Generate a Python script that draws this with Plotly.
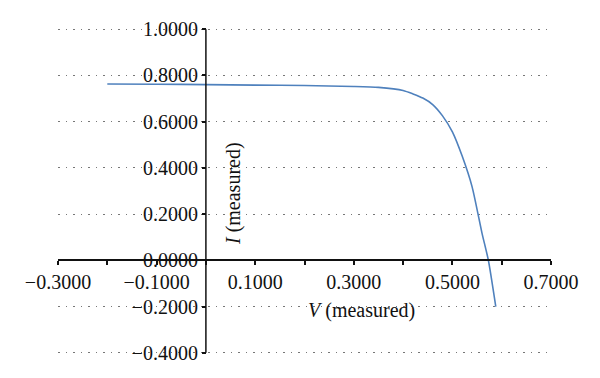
import plotly.graph_objects as go

# Data
V = [-0.2, -0.1, 0.0, 0.1, 0.2, 0.3, 0.35, 0.4, 0.42, 0.44, 0.46, 0.48, 0.50,
     0.52, 0.54, 0.56, 0.573, 0.588]
I = [0.763, 0.762, 0.760, 0.758, 0.756, 0.752, 0.748, 0.735, 0.720, 0.702,
     0.674, 0.625, 0.556, 0.450, 0.318, 0.118, 0.0, -0.200]

x_tickvals = [-0.3, -0.1, 0.1, 0.3, 0.5, 0.7]
y_tickvals = [-0.4, -0.2, 0.0, 0.2, 0.4, 0.6, 0.8, 1.0]


def fmt(v):
    s = f"{abs(v):.4f}"
    return ("\u2212" + s) if v < -1e-12 else s


FONT = dict(family="Liberation Serif, Times New Roman, serif", size=20, color="#111")

Y_LO, Y_HI = -0.405, 1.005
fig = go.Figure()
fig.add_trace(go.Scatter(x=V, y=I, mode="lines",
                         line=dict(color="#4F81BD", width=1.6, shape="spline", smoothing=0.6),
                         hoverinfo="skip", showlegend=False))

fig.update_layout(
    width=600, height=378,
    margin=dict(l=50, r=57, t=20, b=32, autoexpand=False),
    paper_bgcolor="white", plot_bgcolor="white",
    font=FONT,
    showlegend=False,
    xaxis=dict(
        range=[-0.3, 0.7], anchor="free", position=(0 - Y_LO) / (Y_HI - Y_LO), automargin=False,
        showgrid=False, zeroline=False,
        showline=True, linecolor="#111", linewidth=1.5,
        tickvals=x_tickvals, ticktext=[fmt(v) for v in x_tickvals],
        ticks="outside", ticklen=4, tickcolor="#111", tickwidth=1.5,
        minor=dict(dtick=0.1, tick0=-0.3, ticks="outside", ticklen=4,
                   tickcolor="#111", tickwidth=1.5, showgrid=False),
        tickfont=FONT,
    ),
    yaxis=dict(
        range=[Y_LO, Y_HI], anchor="free", position=0.3, automargin=False,
        showgrid=True, gridcolor="#777", gridwidth=1, griddash="1.5px,6px",
        zeroline=False,
        showline=False,
        tickvals=y_tickvals, ticktext=[fmt(v) for v in y_tickvals],
        ticks="outside", ticklen=4, tickcolor="#111", tickwidth=1.5,
        tickfont=FONT,
    ),
)

# y axis line spanning exactly -0.4 .. 1.0 at x = 0
fig.add_shape(type="line", xref="x", yref="y", x0=0, x1=0,
              y0=y_tickvals[0], y1=y_tickvals[-1], line=dict(color="#111", width=1.5), layer="above")

fig.add_annotation(x=0.055, y=0.287, xref="x", yref="y", text="<i>I</i> (measured)",
                   textangle=-90, showarrow=False, font=FONT)
fig.add_annotation(x=0.316, y=-0.215, xref="x", yref="y", text="<i>V</i> (measured)",
                   showarrow=False, font=FONT)

fig.write_html("out.html")
